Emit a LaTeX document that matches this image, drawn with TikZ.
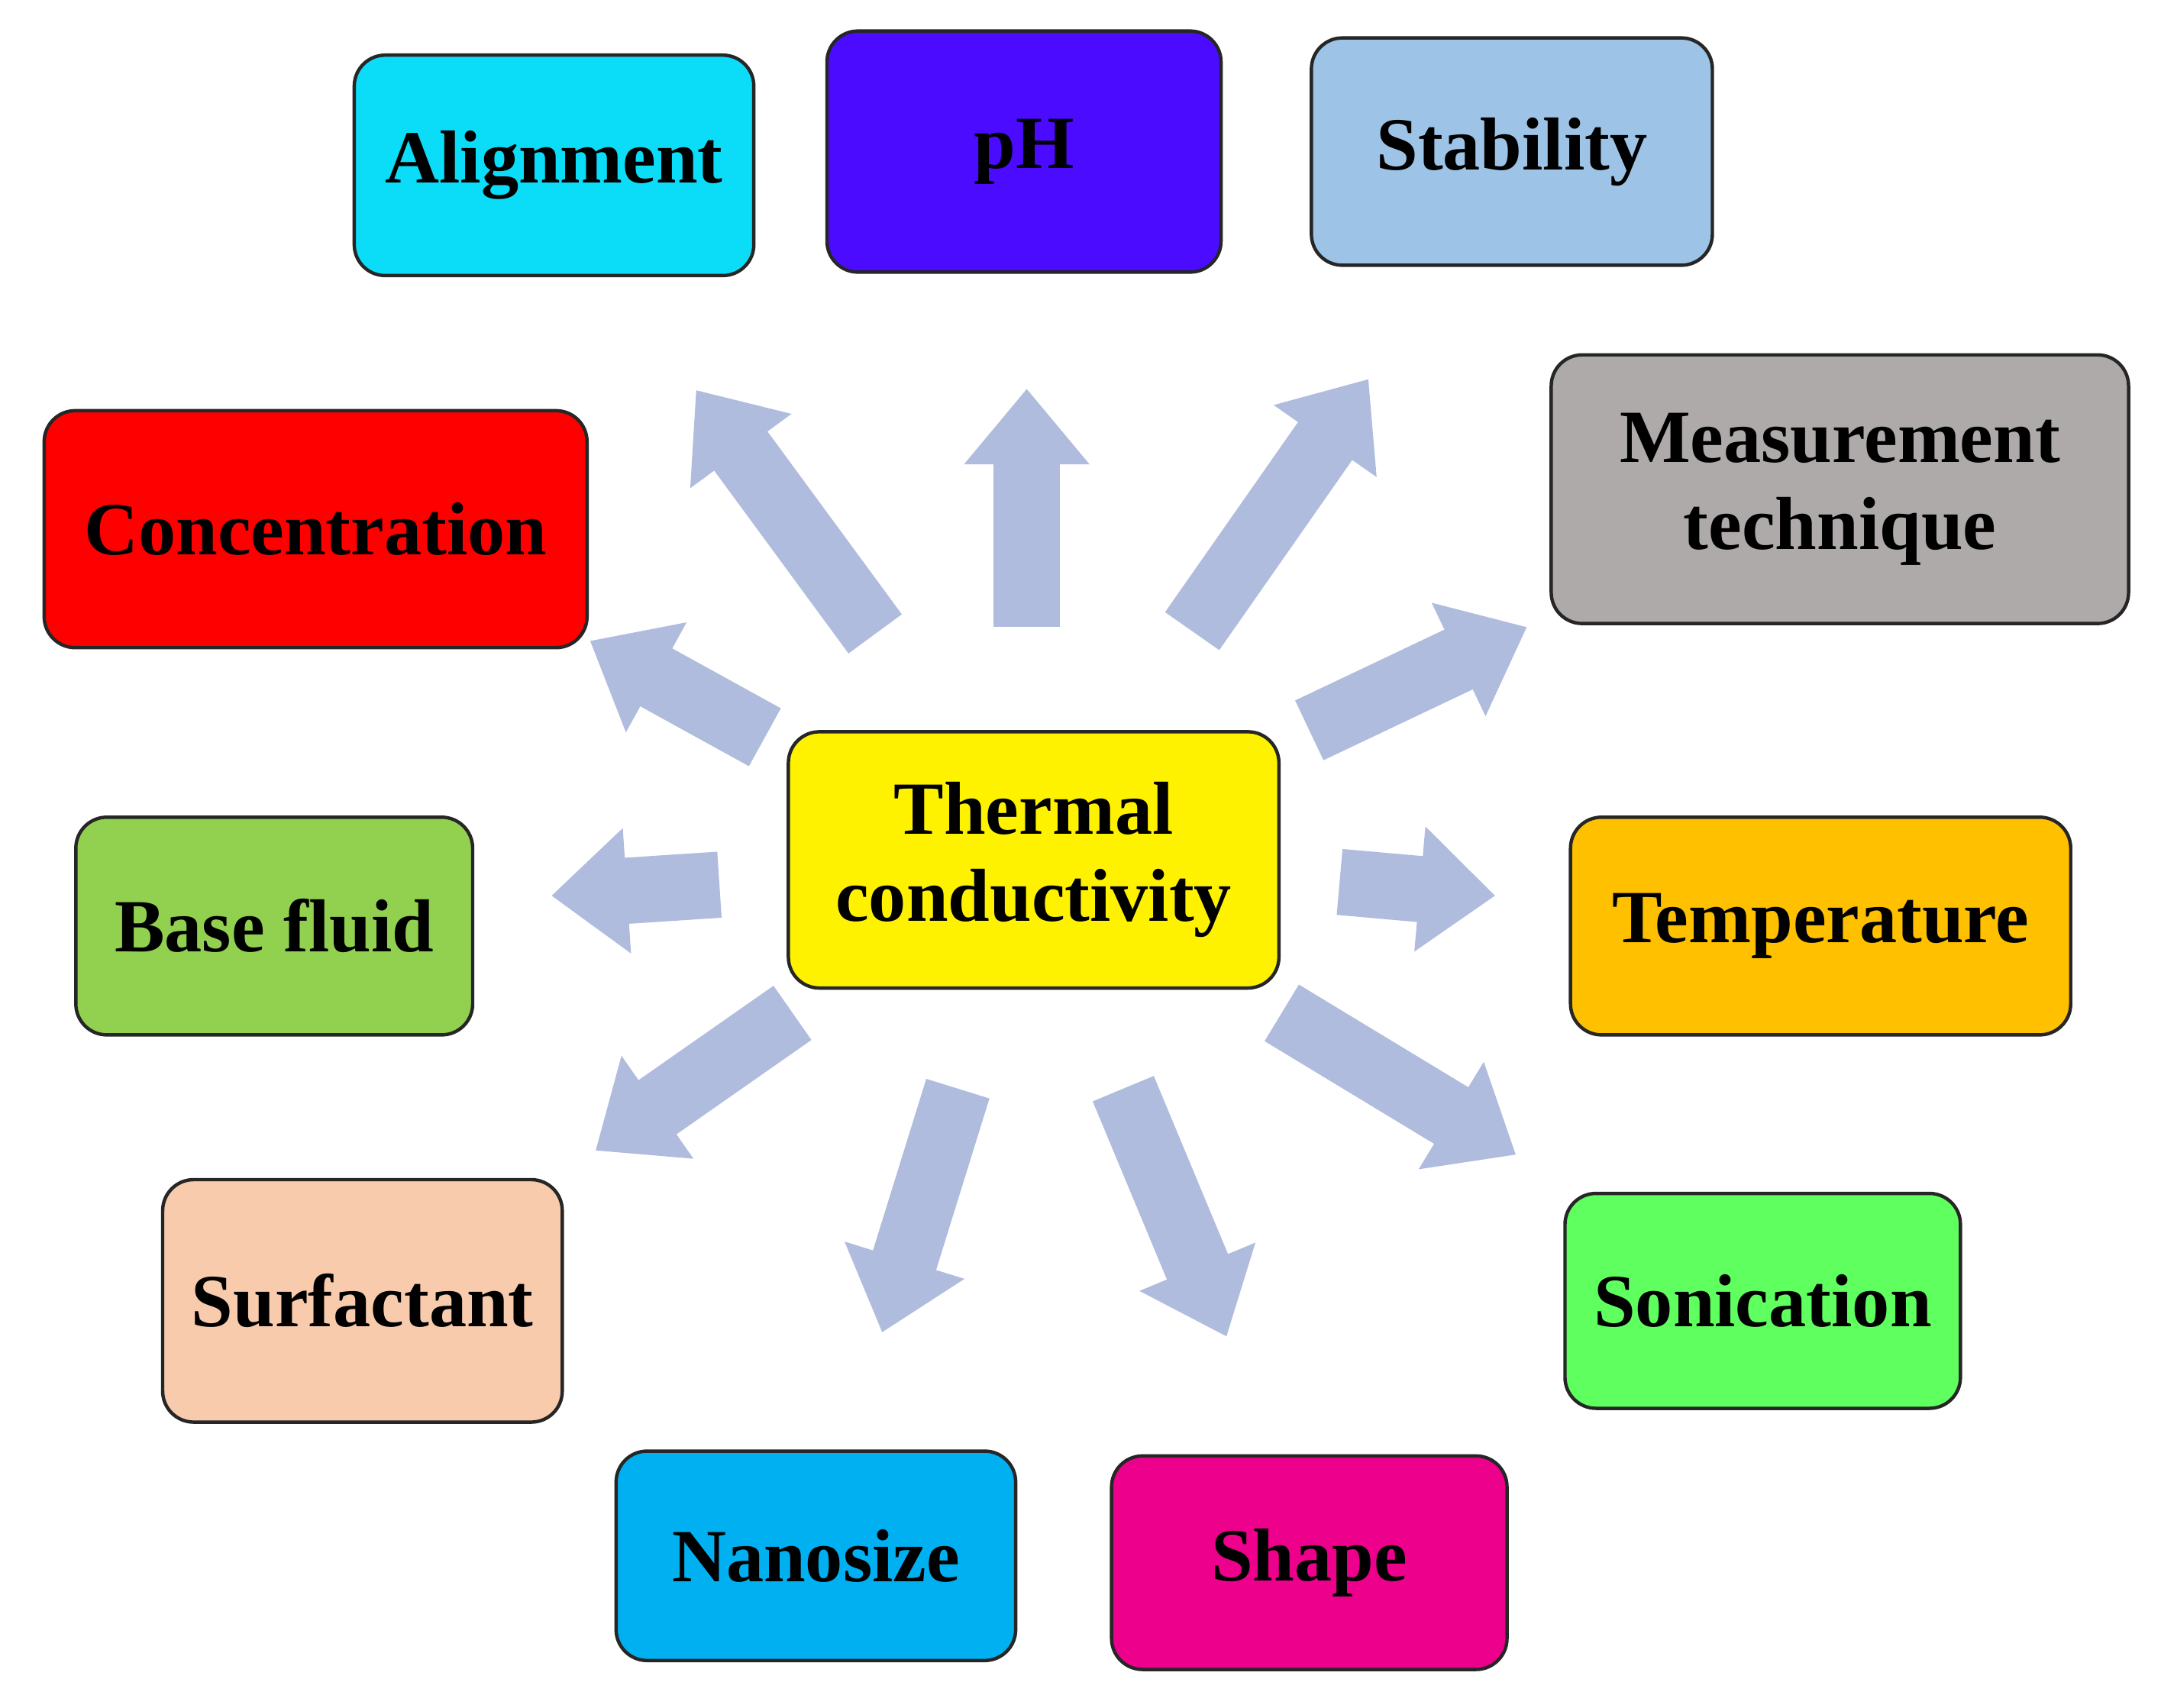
\documentclass[tikz,border=0pt]{standalone}
\usepackage{fontspec}
\setmainfont{Liberation Serif}
\usetikzlibrary{arrows.meta}
\definecolor{arr}{HTML}{B0BCDD}
\begin{document}
\begin{tikzpicture}[x=0.02cm,y=-0.02cm,
  box/.style={draw=black!85,line width=1.4pt,rounded corners=0.45cm,inner sep=0pt,align=center,font=\fontsize{31}{36}\selectfont\bfseries},
  fat/.style={draw=arr,line width=0.96cm,-{Triangle[width=1.75cm,length=1.1cm]}}]
\useasboundingbox (0,0) rectangle (1568,1239);
\newcommand{\bx}[6]{\node[box,fill=#6,minimum width={(#3-#2)*0.02cm},minimum height={(#5-#4)*0.02cm}] (#1) at ({(#2+#3)/2},{(#4+#5)/2}) {};}
\definecolor{cph}{HTML}{4B0BFF}\definecolor{cst}{HTML}{9DC3E6}\definecolor{cme}{HTML}{AEAAAA}
\definecolor{cbf}{HTML}{92D050}\definecolor{cte}{HTML}{FFC000}\definecolor{csu}{HTML}{F8CBAD}
\definecolor{cso}{HTML}{5EFF5E}\definecolor{cna}{HTML}{00B0F0}\definecolor{cal}{HTML}{0BDCF8}
\node[box,fill=cal,minimum width=5.8cm,minimum height=3.2cm] (al) at (402,120) {Alignment};
\node[box,fill=cph,minimum width=5.72cm,minimum height=3.5cm] (ph) at (743,110) {pH};
\node[box,fill=cst,minimum width=5.82cm,minimum height=3.3cm] (st) at (1097,110) {Stability};
\node[box,fill=cme,minimum width=8.38cm,minimum height=3.9cm] (me) at (1335,355) {Measurement\\technique};
\node[box,fill=red,minimum width=7.88cm,minimum height=3.44cm] (co) at (229,384) {Concentration};
\node[box,fill=cbf,minimum width=5.76cm,minimum height=3.16cm] (bf) at (199,672) {Base fluid};
\node[box,fill=cte,minimum width=7.26cm,minimum height=3.16cm] (te) at (1321,672) {Temperature};
\node[box,fill=csu,minimum width=5.8cm,minimum height=3.52cm] (su) at (263,944) {Surfactant};
\node[box,fill=cso,minimum width=5.74cm,minimum height=3.12cm] (so) at (1279,944) {Sonication};
\node[box,fill=cna,minimum width=5.8cm,minimum height=3.04cm] (na) at (592,1129) {Nanosize};
\node[box,fill=magenta,minimum width=5.74cm,minimum height=3.1cm] (sh) at (950,1134) {Shape};
\node[box,fill=yellow,minimum width=7.12cm,minimum height=3.72cm] (tc) at (750,624) {Thermal\\conductivity};
\foreach \n/\a/\b/\c/\d in {1/635/460/505/283, 2/745/455/745/282, 3/865/458/993/275, 4/950/530/1108/455,
  5/555/535/428/465, 6/522/642/400/650, 7/972/640/1085/650, 8/575/735/432/835, 9/930/735/1100/838,
  10/695/790/640/967, 11/815/790/890/970}{
  \coordinate (s\n) at (\a,\b); \coordinate (e\n) at (\c,\d);
  \draw[fat] (s\n) -- (e\n);}
\end{tikzpicture}
\end{document}
